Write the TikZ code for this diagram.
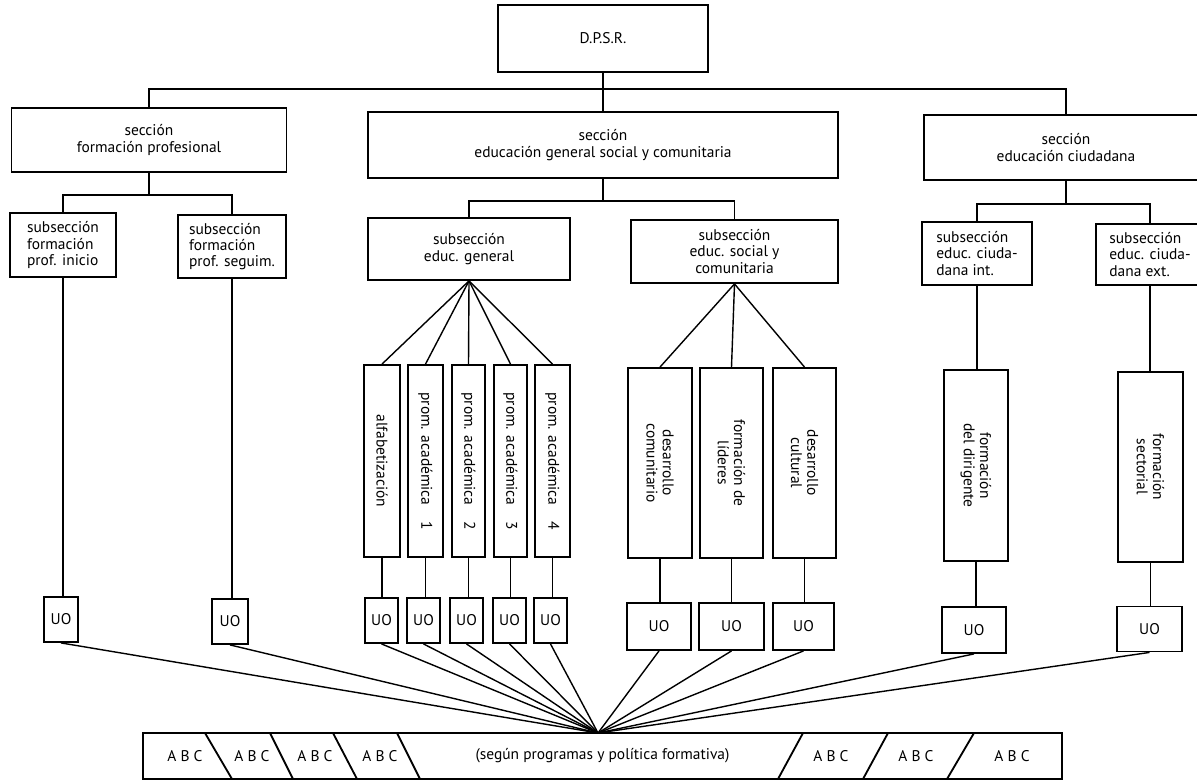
\documentclass[tikz,border=0pt]{standalone}
\usepackage{fontspec}
\setmainfont{PT Sans}
\begin{document}
\begin{tikzpicture}[
        x=0.25mm, y=-0.25mm,
        line width=1.3pt,
        every node/.style={font=\fontsize{11}{11.6}\selectfont},
        sect/.style={draw, align=center, inner sep=0pt},
        subl/.style={draw, align=left, inner sep=0pt},
        prog/.style={draw, rotate=-90, align=center, inner sep=0pt, minimum width=48mm},
        uo/.style={draw, inner sep=0pt, minimum height=11.25mm},
        fan/.style={line width=1pt},
    ]
    \useasboundingbox (0,0) rectangle (1197,783);
    \clip (0,0) rectangle (1197,783);

    % top
    \node[sect, minimum width=52.5mm, minimum height=16.75mm] (dpsr) at (603,38.5) {D.P.S.R.};

    % secciones
    \node[sect, minimum width=68.75mm, minimum height=16mm] (s1) at (149,140) {sección\\formación profesional};
    \node[sect, minimum width=117.5mm, minimum height=16.5mm] (s2) at (603,145) {sección\\educación general social y comunitaria};
    \node[sect, minimum width=71mm, minimum height=16.25mm] (s3) at (1066,147.5) {sección\\educación ciudadana};

    \draw (dpsr.south) -- (dpsr.south |- s2.north);
    \draw (s1.north) -- ++(0,-18) -| (s3.north);

    % subsecciones
    \node[subl, minimum width=26.5mm, minimum height=16mm] (ss11) at (63,245) {subsección\\formación\\prof. inicio};
    \node[subl, minimum width=27mm, minimum height=15.75mm] (ss12) at (232,246.5) {subsección\\formación\\prof. seguim.};
    \node[sect, minimum width=50.5mm, minimum height=15.5mm] (sg) at (469,249) {subsección\\educ. general};
    \node[sect, minimum width=51.75mm, minimum height=15.75mm] (ssc) at (734.5,251.5) {subsección\\educ. social y\\comunitaria};
    \node[subl, minimum width=27.5mm, minimum height=15.75mm] (sci) at (977,253.5) {subsección\\educ. ciuda-\\dana int.};
    \node[subl, minimum width=27mm, minimum height=15.25mm] (sce) at (1150,254.5) {subsección\\educ. ciuda-\\dana ext.};

    \draw (s1.south) -- ++(0,22) -| (ss11.north);
    \draw (s1.south) ++(0,22) -| (ss12.north);
    \draw (s2.south) -- ++(0,22) -| (sg.north);
    \draw (s2.south) ++(0,22) -| (ssc.north);
    \draw (s3.south) -- ++(0,23) -| (sci.north);
    \draw (s3.south) ++(0,23) -| (sce.north);

    % programas
    \node[prog, minimum height=9mm] (alf) at (382,461) {alfabetización};
    \node[prog, minimum height=8.75mm] (p1) at (425.5,461) {prom. académica\quad 1};
    \node[prog, minimum height=8.25mm] (p2) at (468.5,461) {prom. académica\quad 2};
    \node[prog, minimum height=8.25mm] (p3) at (510.5,461) {prom. académica\quad 3};
    \node[prog, minimum height=8.75mm] (p4) at (552.5,461) {prom. académica\quad 4};
    \node[prog, minimum width=47.5mm, minimum height=16mm] (dc) at (660,463) {desarrollo\\comunitario};
    \node[prog, minimum width=47.5mm, minimum height=15.75mm] (fl) at (731.5,463) {formación de\\líderes};
    \node[prog, minimum width=47.5mm, minimum height=15.75mm] (dcu) at (804.5,463) {desarrollo\\cultural};
    \node[prog, minimum width=47.75mm, minimum height=16mm] (fd) at (976,465.5) {formación\\del dirigente};
    \node[prog, minimum width=47.5mm, minimum height=16.25mm] (fs) at (1150.5,467) {formación\\sectorial};

    \foreach \p in {alf,p1,p2,p3,p4}
        \draw[fan] (sg.south) -- (\p.west);
    \foreach \p in {dc,fl,dcu}
        \draw[fan] (ssc.south) -- (\p.west);
    \draw (sci.south) -- (sci.south |- fd.west);
    \draw (sce.south) -- (sce.south |- fs.west);

    % unidades operativas
    \node[uo, minimum width=8.5mm] (uo1) at (61,619.5) {UO};
    \node[uo, minimum width=9mm] (uo2) at (230,621.5) {UO};
    \node[uo, minimum width=8.25mm] (uo3) at (381.5,620.5) {UO};
    \node[uo, minimum width=8.25mm] (uo4) at (423.5,620.5) {UO};
    \node[uo, minimum width=8.25mm] (uo5) at (466.5,620.5) {UO};
    \node[uo, minimum width=8.25mm] (uo6) at (509.5,620.5) {UO};
    \node[uo, minimum width=8.25mm] (uo7) at (550.5,620.5) {UO};
    \node[uo, minimum width=16mm, minimum height=11.75mm] (uo8) at (659,626.5) {UO};
    \node[uo, minimum width=16.25mm, minimum height=11.75mm] (uo9) at (731.5,626.5) {UO};
    \node[uo, minimum width=15.25mm, minimum height=11.75mm] (uo10) at (803.5,626.5) {UO};
    \node[uo, minimum width=16mm, minimum height=11.5mm] (uo11) at (974,630) {UO};
    \node[uo, minimum width=16.25mm] (uo12) at (1149.5,629) {UO};

    \draw (ss11.south) -- (ss11.south |- uo1.north);
    \draw (ss12.south) -- (ss12.south |- uo2.north);
    \foreach \p/\u in {alf/uo3, p1/uo4, p2/uo5, p3/uo6, p4/uo7, dc/uo8, fl/uo9, dcu/uo10, fd/uo11, fs/uo12}
        \draw (\p.east) -- (\p.east |- \u.north);

    % barra inferior
    \node[draw, inner sep=0pt, minimum width=229.75mm, minimum height=11.5mm] (bar) at (602.5,756) {(según programas y política formativa)};
    \coordinate (hub) at (598,733);
    \foreach \u in {uo1,uo2,uo3,uo4,uo5,uo6,uo7,uo8,uo9,uo10,uo11,uo12}
        \draw[fan] (\u.south) -- (hub);

    \draw (205,733) -- (232,779);
    \draw (270,733) -- (293,779);
    \draw (333,733) -- (357,779);
    \draw (397,733) -- (420,779);
    \draw (803,733) -- (778,779);
    \draw (888,733) -- (863,779);
    \draw (974,733) -- (947,779);

    \node (abc1) at (185,756) {A~B~C};
    \node (abc2) at (252,756) {A~B~C};
    \node (abc3) at (315,756) {A~B~C};
    \node (abc4) at (380,756) {A~B~C};
    \node (abc5) at (831,756) {A~B~C};
    \node (abc6) at (916,756) {A~B~C};
    \node (abc7) at (1012,756) {A~B~C};

\end{tikzpicture}
\end{document}
